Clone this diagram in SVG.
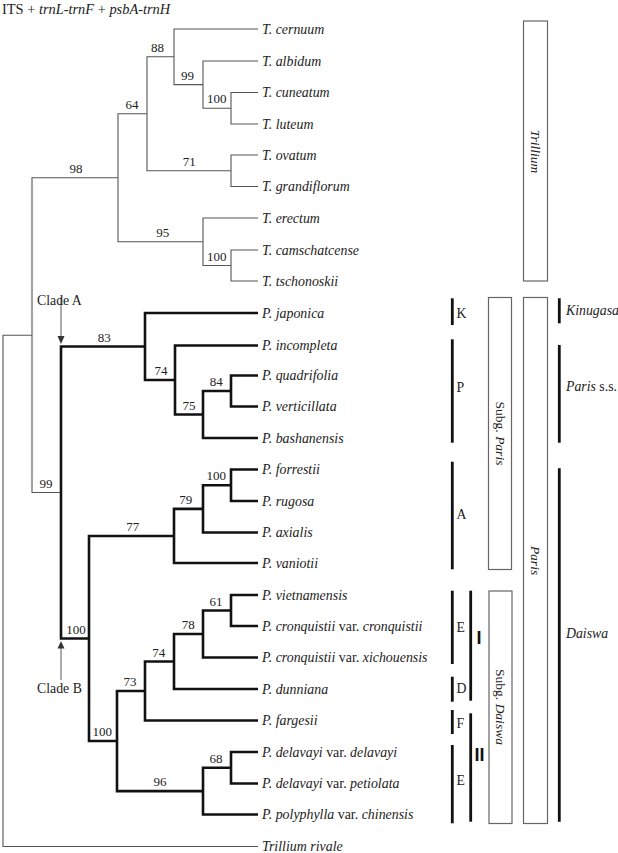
<svg xmlns="http://www.w3.org/2000/svg" width="618" height="853" viewBox="0 0 618 853">
<style>
text{font-family:"Liberation Serif","Times New Roman",serif;fill:#222;}
.ttl{font-size:14.4px;}
.tx{font-size:13.9px;font-style:italic;}
.up{font-style:normal;}
.bs{font-size:13px;text-anchor:middle;}
.lb{font-size:13.8px;}
.rt{font-size:13.5px;text-anchor:middle;}
.it{font-style:italic;}
.rn{font-family:"Liberation Sans",Arial,sans-serif;font-weight:bold;font-size:18px;text-anchor:middle;fill:#111;}
.thin{fill:none;stroke:#555;stroke-width:1.1;}
.thick{fill:none;stroke:#111;stroke-width:2.6;}
.arr{stroke:#666;stroke-width:1.1;fill:none;}
.box{fill:none;stroke:#666;stroke-width:1.2;}
.bar{stroke:#111;stroke-width:2.8;}
</style>
<rect width="618" height="853" fill="#fff"/>
<text class="ttl" x="2" y="13.5">ITS + <tspan class="it">trnL-trnF</tspan> + <tspan class="it">psbA-trnH</tspan></text>

<g id="connectors">
  <path class="thin" d="M258,92.5 H231 V124 H258"/>
  <path class="thin" d="M258,61 H203 V108.25 H231"/>
  <path class="thin" d="M258,29 H174 V84.6 H203"/>
  <path class="thin" d="M258,155 H231 V186.5 H258"/>
  <path class="thin" d="M174,56.8 H147 V170.75 H231"/>
  <path class="thin" d="M258,250 H231 V281 H258"/>
  <path class="thin" d="M258,218 H203 V265.5 H231"/>
  <path class="thin" d="M147,113.8 H118 V241.75 H203"/>
  <path class="thin" d="M118,177.8 H32 V492.5 H61"/>
  <path class="thin" d="M32,335.2 H3 V846.5 H258"/>
  <path class="thick" d="M258,375.5 H231 V406.5 H258"/>
  <path class="thick" d="M231,391 H203 V438 H258"/>
  <path class="thick" d="M258,345.5 H175 V414.5 H203"/>
  <path class="thick" d="M258,313 H145 V380 H175"/>
  <path class="thick" d="M258,469.5 H231 V501 H258"/>
  <path class="thick" d="M231,485.25 H203 V532.5 H258"/>
  <path class="thick" d="M203,508.9 H174 V563 H258"/>
  <path class="thick" d="M258,595 H231 V626 H258"/>
  <path class="thick" d="M231,610.5 H203 V657.5 H258"/>
  <path class="thick" d="M203,634 H174 V689 H258"/>
  <path class="thick" d="M174,661.5 H145 V720.5 H258"/>
  <path class="thick" d="M258,752 H231 V783.5 H258"/>
  <path class="thick" d="M231,767.75 H203 V814.5 H258"/>
  <path class="thick" d="M145,691 H117 V791.1 H203"/>
  <path class="thick" d="M174,536 H89 V741 H117"/>
  <path class="thick" d="M145,346.5 H61 V638.5 H89"/>
  <path class="arr" d="M61,297 V337"/>
  <polygon points="57.5,336 64.5,336 61,344" fill="#333"/>
  <path class="arr" d="M61,680 V648"/>
  <polygon points="57.5,648.5 64.5,648.5 61,641" fill="#333"/>
</g>

<g id="support">
  <text class="bs" x="157.5" y="52">88</text>
  <text class="bs" x="187.5" y="79.6">99</text>
  <text class="bs" x="216.7" y="103.3">100</text>
  <text class="bs" x="132" y="108.8">64</text>
  <text class="bs" x="189.2" y="165.8">71</text>
  <text class="bs" x="76" y="172.8">98</text>
  <text class="bs" x="162.7" y="236.8">95</text>
  <text class="bs" x="216.7" y="260.5">100</text>
  <text class="bs" x="104.3" y="341.5">83</text>
  <text class="bs" x="161" y="375">74</text>
  <text class="bs" x="216.3" y="386">84</text>
  <text class="bs" x="189" y="409.5">75</text>
  <text class="bs" x="216.3" y="480.3">100</text>
  <text class="bs" x="46" y="487.5">99</text>
  <text class="bs" x="185.7" y="503.9">79</text>
  <text class="bs" x="132.7" y="531">77</text>
  <text class="bs" x="216" y="605.5">61</text>
  <text class="bs" x="188.3" y="629">78</text>
  <text class="bs" x="76" y="633.5">100</text>
  <text class="bs" x="158.7" y="656.5">74</text>
  <text class="bs" x="130" y="686">73</text>
  <text class="bs" x="102.2" y="736">100</text>
  <text class="bs" x="216" y="762.7">68</text>
  <text class="bs" x="160" y="786.1">96</text>
</g>

<g id="clade-labels">
  <g id="cladeA"><text class="lb" x="37" y="305.2">Clade A</text></g>
  <g id="cladeB"><text class="lb" x="37" y="692.8">Clade B</text></g>
</g>

<g id="taxa">
  <g id="t-cernuum"><text class="tx" x="262" y="33.5">T. cernuum</text></g>
  <g id="t-albidum"><text class="tx" x="262" y="65.5">T. albidum</text></g>
  <g id="t-cuneatum"><text class="tx" x="262" y="97">T. cuneatum</text></g>
  <g id="t-luteum"><text class="tx" x="262" y="128.5">T. luteum</text></g>
  <g id="t-ovatum"><text class="tx" x="262" y="159.5">T. ovatum</text></g>
  <g id="t-grandiflorum"><text class="tx" x="262" y="191">T. grandiflorum</text></g>
  <g id="t-erectum"><text class="tx" x="262" y="222.5">T. erectum</text></g>
  <g id="t-camschatcense"><text class="tx" x="262" y="254.5">T. camschatcense</text></g>
  <g id="t-tschonoskii"><text class="tx" x="262" y="285.5">T. tschonoskii</text></g>
  <g id="p-japonica"><text class="tx" x="262" y="317.5">P. japonica</text></g>
  <g id="p-incompleta"><text class="tx" x="262" y="350">P. incompleta</text></g>
  <g id="p-quadrifolia"><text class="tx" x="262" y="380">P. quadrifolia</text></g>
  <g id="p-verticillata"><text class="tx" x="262" y="411">P. verticillata</text></g>
  <g id="p-bashanensis"><text class="tx" x="262" y="442.5">P. bashanensis</text></g>
  <g id="p-forrestii"><text class="tx" x="262" y="474">P. forrestii</text></g>
  <g id="p-rugosa"><text class="tx" x="262" y="505.5">P. rugosa</text></g>
  <g id="p-axialis"><text class="tx" x="262" y="537">P. axialis</text></g>
  <g id="p-vaniotii"><text class="tx" x="262" y="567.5">P. vaniotii</text></g>
  <g id="p-vietnamensis"><text class="tx" x="262" y="599.5">P. vietnamensis</text></g>
  <g id="p-cronquistii-cronquistii"><text class="tx" x="262" y="630.5">P. cronquistii <tspan class="up">var.</tspan> cronquistii</text></g>
  <g id="p-cronquistii-xichouensis"><text class="tx" x="262" y="662">P. cronquistii <tspan class="up">var.</tspan> xichouensis</text></g>
  <g id="p-dunniana"><text class="tx" x="262" y="693.5">P. dunniana</text></g>
  <g id="p-fargesii"><text class="tx" x="262" y="725">P. fargesii</text></g>
  <g id="p-delavayi-delavayi"><text class="tx" x="262" y="756.5">P. delavayi <tspan class="up">var.</tspan> delavayi</text></g>
  <g id="p-delavayi-petiolata"><text class="tx" x="262" y="788">P. delavayi <tspan class="up">var.</tspan> petiolata</text></g>
  <g id="p-polyphylla-chinensis"><text class="tx" x="262" y="819">P. polyphylla <tspan class="up">var.</tspan> chinensis</text></g>
  <g id="trillium-rivale"><text class="tx" x="262" y="851">Trillium rivale</text></g>
</g>

<g id="groups">
  <g id="sect-K"><line class="bar" x1="452.3" y1="298.3" x2="452.3" y2="325"/><text class="lb" x="456.5" y="318">K</text></g>
  <g id="sect-P"><line class="bar" x1="452.3" y1="339.3" x2="452.3" y2="442.7"/><text class="lb" x="456.5" y="391.5">P</text></g>
  <g id="sect-A"><line class="bar" x1="452.3" y1="461.7" x2="452.3" y2="569.3"/><text class="lb" x="456.5" y="519">A</text></g>
  <g id="sect-E1"><line class="bar" x1="452.3" y1="590.7" x2="452.3" y2="664"/><text class="lb" x="456.5" y="631.5">E</text></g>
  <g id="sect-D"><line class="bar" x1="452.3" y1="676.7" x2="452.3" y2="701.7"/><text class="lb" x="456.5" y="693.3">D</text></g>
  <g id="sect-F"><line class="bar" x1="452.3" y1="710" x2="452.3" y2="734"/><text class="lb" x="456.5" y="727.5">F</text></g>
  <g id="sect-E2"><line class="bar" x1="452.3" y1="745" x2="452.3" y2="823.3"/><text class="lb" x="456.5" y="785">E</text></g>
  <g id="group-I"><line class="bar" x1="470.7" y1="590.7" x2="470.7" y2="700.7"/><text class="rn" x="479" y="643.5">I</text></g>
  <g id="group-II"><line class="bar" x1="470.7" y1="713.3" x2="470.7" y2="821.7"/><text class="rn" x="479.5" y="760.5">II</text></g>
  <g id="box-trillium"><rect class="box" x="523.5" y="21" width="24" height="260"/><text class="rt it" transform="translate(531,151.5) rotate(90)">Trillium</text></g>
  <g id="box-subg-paris"><rect class="box" x="488.5" y="297.5" width="23" height="272"/><text class="rt" transform="translate(495.5,433.5) rotate(90)">Subg. <tspan class="it">Paris</tspan></text></g>
  <g id="box-paris"><rect class="box" x="523.5" y="297.5" width="24" height="526"/><text class="rt it" transform="translate(531,560.5) rotate(90)">Paris</text></g>
  <g id="box-subg-daiswa"><rect class="box" x="489" y="591" width="23" height="232.5"/><text class="rt" transform="translate(496,707) rotate(90)">Subg. <tspan class="it">Daiswa</tspan></text></g>
  <g id="gen-kinugasa"><line class="bar" x1="559.3" y1="298.3" x2="559.3" y2="323.3"/><text class="lb it" x="566" y="315">Kinugasa</text></g>
  <g id="gen-paris-ss"><line class="bar" x1="559.3" y1="345" x2="559.3" y2="442.7"/><text class="lb" x="566" y="391"><tspan class="it">Paris</tspan> s.s.</text></g>
  <g id="gen-daiswa"><line class="bar" x1="559.3" y1="468.3" x2="559.3" y2="821.7"/><text class="lb it" x="566" y="638">Daiswa</text></g>
</g>
</svg>
